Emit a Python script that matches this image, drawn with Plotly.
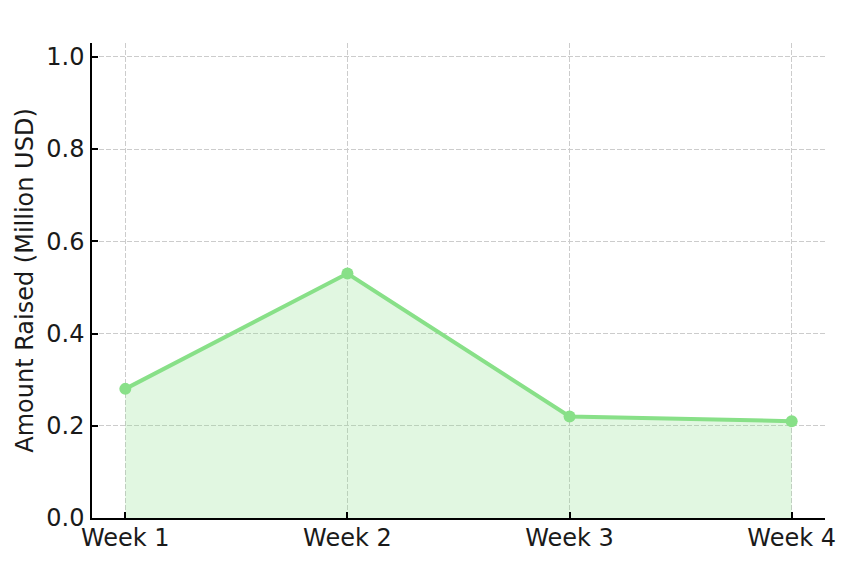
import plotly.graph_objects as go

weeks = ["Week 1", "Week 2", "Week 3", "Week 4"]
amount_raised = [0.28, 0.53, 0.22, 0.21]
y_ticks = [0.0, 0.2, 0.4, 0.6, 0.8, 1.0]
y_tick_labels = ["0.0", "0.2", "0.4", "0.6", "0.8", "1.0"]

fig = go.Figure()
fig.add_trace(go.Scatter(
    x=weeks, y=amount_raised,
    mode="lines+markers",
    fill="tozeroy",
    fillcolor="rgba(136,224,136,0.25)",
    line=dict(color="#88e088", width=4),
    marker=dict(color="#88e088", size=12),
    showlegend=False,
))

font = "DejaVu Sans, sans-serif"
fig.update_layout(
    width=850, height=564,
    margin=dict(l=92, r=25, t=43, b=46),
    paper_bgcolor="white", plot_bgcolor="white",
    font=dict(family=font, size=24, color="#1a1a1a"),
)
fig.update_xaxes(
    type="category",
    range=[-0.15, 3.15],
    automargin=False,
    showline=True, linecolor="black", linewidth=1.5,
    ticks="inside", ticklen=6, tickwidth=1.5, tickcolor="black",
    ticklabelstandoff=-3,
    showgrid=True, gridcolor="#cccccc", griddash="5px,2px", gridwidth=1,
    tickfont=dict(size=24),
    zeroline=False,
)
fig.update_yaxes(
    range=[0, 1.03],
    automargin=False,
    tickvals=y_ticks, ticktext=y_tick_labels,
    showline=True, linecolor="black", linewidth=1.5,
    ticks="inside", ticklen=6, tickwidth=1.5, tickcolor="black",
    ticklabelstandoff=1,
    showgrid=True, gridcolor="#cccccc", griddash="5px,2px", gridwidth=1,
    tickfont=dict(size=24),
    title=dict(text="Amount Raised (Million USD)", font=dict(size=24), standoff=6),
    zeroline=False,
)

fig.write_html("out.html", post_script="document.body.style.margin='0';",
               config={"displayModeBar": False})
